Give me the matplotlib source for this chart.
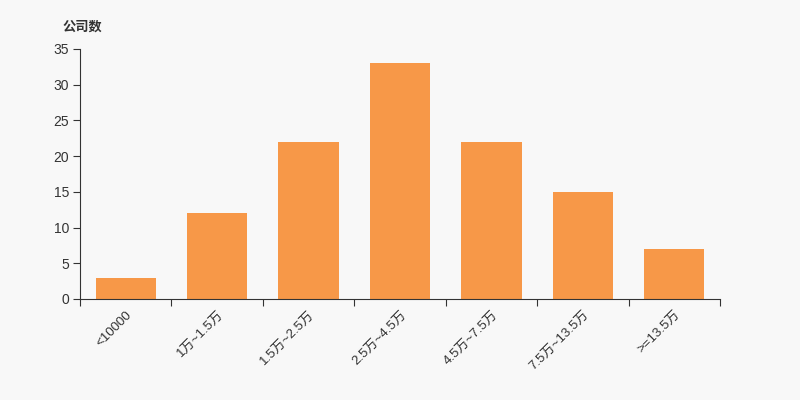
import matplotlib
matplotlib.use("Agg")
import matplotlib.pyplot as plt
import numpy as np

categories = ["<10000", "1万~1.5万", "1.5万~2.5万", "2.5万~4.5万", "4.5万~7.5万", "7.5万~13.5万", ">=13.5万"]
values = [3, 12, 22, 33, 22, 15, 7]
yticks = [0, 5, 10, 15, 20, 25, 30, 35]

plt.rcParams['font.family'] = ['Liberation Sans', 'Noto Sans CJK SC', 'DejaVu Sans']

fig = plt.figure(figsize=(8, 4), dpi=100, facecolor='#f8f8f8')
ax = fig.add_axes([0.1, 0.2525, 0.8, 0.625])
ax.set_facecolor('#f8f8f8')

x = np.arange(len(categories))
ax.bar(x, values, width=0.66, color='#f79848')

ax.set_xlim(-0.5, len(categories) - 0.5)
ax.set_ylim(0, 35)
ax.set_yticks(yticks)
ax.set_yticklabels([str(v) for v in yticks], fontsize=10, color='#333333')

ax.set_xticks(np.arange(len(categories) + 1) - 0.5)
ax.set_xticklabels([])
ax.set_xticks(x, minor=True)
ax.set_xticklabels(categories, minor=True, rotation=45, ha='right', rotation_mode='anchor',
                   fontsize=9.5, color='#333333')
ax.tick_params(axis='x', which='minor', length=0, pad=7)
ax.tick_params(axis='x', which='major', length=5, color='#333333')
ax.tick_params(axis='y', length=5, color='#333333', pad=3)

for s in ['top', 'right']:
    ax.spines[s].set_visible(False)
ax.spines['left'].set_color('#333333')
ax.spines['bottom'].set_color('#333333')

fig.text(0.078, 0.932, "公司数", fontsize=9.5, fontweight='bold', color='#333333', va='center')

fig.savefig("out.png", dpi=100, facecolor='#f8f8f8')
